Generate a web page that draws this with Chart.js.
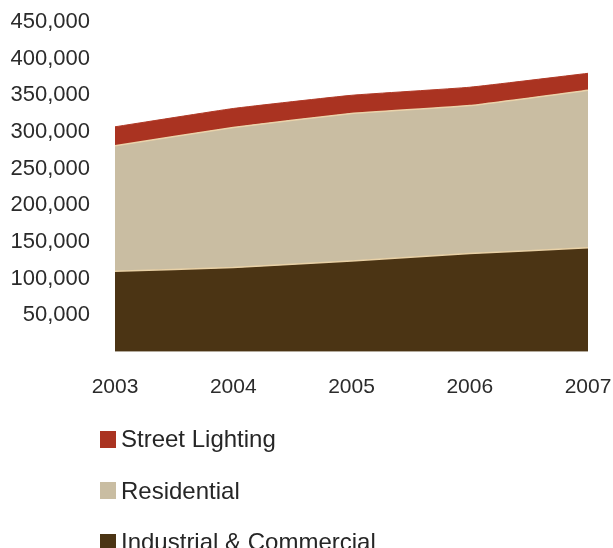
<!DOCTYPE html>
<html>
<head>
<meta charset="utf-8">
<script src="https://cdn.jsdelivr.net/npm/chart.js@4/dist/chart.umd.min.js"></script>
<style>
  body { margin: 0; background: #fff; font-family: "Liberation Sans", Arial, sans-serif; }
  #wrap { position: relative; width: 613px; height: 548px; }
  #legend { position: absolute; left: 100px; top: 425px; }
  .item { display: flex; align-items: center; height: 28px; margin-bottom: 23.5px; font-size: 24px; color: #262626; }
  .box { width: 16px; height: 17px; margin-right: 5px; }
</style>
</head>
<body>
<div id="wrap">
  <canvas id="area-chart" width="613" height="434"></canvas>
  <div id="legend"></div>
</div>
<script>
// values
var years = ['2003', '2004', '2005', '2006', '2007'];
var industrial = [110000, 115000, 124000, 134000, 142000];
var residential = [171000, 191000, 201000, 202000, 215000];
var streetLighting = [26000, 26000, 25000, 25000, 23000];
var yTicks = [50000, 100000, 150000, 200000, 250000, 300000, 350000, 400000, 450000];

var ctx = document.getElementById("area-chart").getContext("2d");

var chart = new Chart(ctx, {
  type: "line",
  data: {
    labels: years,
    datasets: [{
      label: 'Industrial & Commercial',
      data: industrial,
      backgroundColor: '#4b3414',
      borderColor: '#e9d1a6',
      borderWidth: 1.5,
      fill: 'origin'
    }, {
      label: 'Residential',
      data: residential,
      backgroundColor: '#c9bda2',
      borderColor: '#ead3ab',
      borderWidth: 1.5,
      fill: '-1'
    }, {
      label: 'Street Lighting',
      data: streetLighting,
      backgroundColor: '#aa3321',
      borderColor: '#b03a27',
      borderWidth: 1,
      fill: '-1'
    }]
  },
  options: {
    responsive: false,
    animation: false,
    layout: { padding: { top: 22, right: 25, bottom: 19, left: 0 } },
    elements: { point: { radius: 0 }, line: { tension: 0.12 } },
    plugins: {
      legend: { display: false },
      tooltip: { enabled: false },
      filler: { propagate: false }
    },
    scales: {
      x: {
        grid: { display: false },
        border: { display: false },
        afterFit: function (scale) { scale.paddingRight = 0; },
        ticks: { color: '#2b2b2b', padding: 15, font: { size: 21, family: 'Liberation Sans' }, maxRotation: 0 }
      },
      y: {
        stacked: true,
        min: 0,
        max: 450000,
        grid: { display: false },
        border: { display: false },
        afterFit: function (scale) { scale.width = 115; scale.paddingTop = 0; },
        afterBuildTicks: function (scale) {
          scale.ticks = [0].concat(yTicks).map(function (v) { return { value: v }; });
        },
        ticks: {
          color: '#2b2b2b',
          padding: 17,
          font: { size: 22, family: 'Liberation Sans' },
          callback: function (v) { return v === 0 ? '' : v.toLocaleString('en-US'); }
        }
      }
    }
  }
});

// legend, top item is the top layer
var legend = document.getElementById("legend");
chart.data.datasets.slice().reverse().forEach(function (ds) {
  var row = document.createElement('div');
  row.className = 'item';
  row.innerHTML = '<span class="box" style="background:' + ds.backgroundColor + '"></span>' + ds.label;
  legend.appendChild(row);
});
</script>
</body>
</html>
